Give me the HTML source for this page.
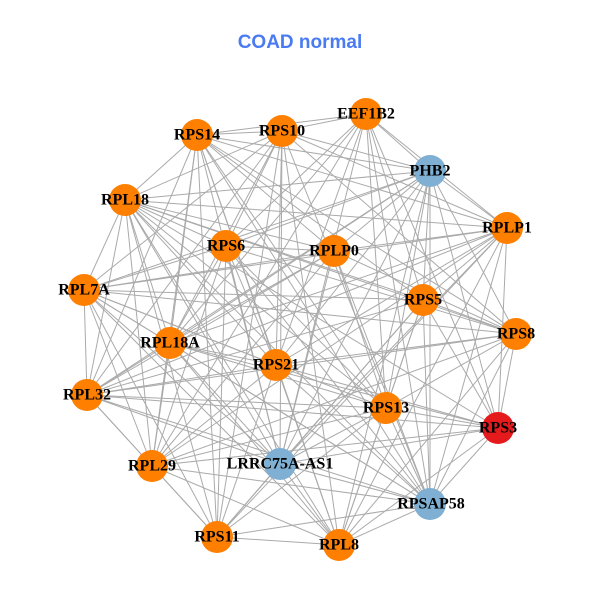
<!DOCTYPE html>
<html><head><meta charset="utf-8"><style>
html,body{margin:0;padding:0;background:#fff;}
svg{display:block}
.l{font-family:"Liberation Serif",serif;font-weight:bold;font-size:16px;fill:#000;text-anchor:middle;dominant-baseline:central}
</style></head><body>
<svg id="s" width="600" height="600" xmlns="http://www.w3.org/2000/svg">
<rect width="600" height="600" fill="#fff"/>
<text x="300" y="48" text-anchor="middle" font-family="Liberation Sans, sans-serif" font-weight="bold" font-size="19" fill="#4A7BF2">COAD normal</text>
<g id="e" stroke="#aaaaaa" stroke-width="1"></g>
<g id="n"></g>
<g id="t">
<text class="l" x="366" y="114">EEF1B2</text>
<text class="l" x="282" y="131">RPS10</text>
<text class="l" x="197" y="135">RPS14</text>
<text class="l" x="430" y="171">PHB2</text>
<text class="l" x="125" y="200">RPL18</text>
<text class="l" x="507" y="228">RPLP1</text>
<text class="l" x="226" y="246">RPS6</text>
<text class="l" x="334" y="251">RPLP0</text>
<text class="l" x="84" y="290">RPL7A</text>
<text class="l" x="423" y="300">RPS5</text>
<text class="l" x="516" y="334">RPS8</text>
<text class="l" x="170" y="343">RPL18A</text>
<text class="l" x="276" y="365">RPS21</text>
<text class="l" x="87" y="395">RPL32</text>
<text class="l" x="386" y="408">RPS13</text>
<text class="l" x="498" y="428">RPS3</text>
<text class="l" x="152" y="466">RPL29</text>
<text class="l" x="280" y="464">LRRC75A-AS1</text>
<text class="l" x="431" y="504">RPSAP58</text>
<text class="l" x="217" y="537">RPS11</text>
<text class="l" x="339" y="545">RPL8</text>
</g>
</svg>
<script>
var N=[[366,114,"o"],[282,131,"o"],[197,135,"o"],[430,171,"b"],[125,200,"o"],[507,228,"o"],[226,246,"o"],[334,251,"o"],[84,290,"o"],[423,300,"o"],[516,334,"o"],[170,343,"o"],[276,365,"o"],[87,395,"o"],[386,408,"o"],[498,428,"r"],[152,466,"o"],[280,464,"b"],[430,504,"b"],[217,537,"o"],[339,545,"o"]];
var C={o:"#FF7F00",b:"#7FAFD2",r:"#E41A1C"};
var ns="http://www.w3.org/2000/svg",e=document.getElementById("e"),g=document.getElementById("n");
var seed=7;function rnd(){seed=(seed*1103515245+12345)%2147483648;return seed/2147483648;}
for(var i=0;i<N.length;i++)for(var j=i+1;j<N.length;j++){if(rnd()<0.78){var l=document.createElementNS(ns,"line");l.setAttribute("x1",N[i][0]);l.setAttribute("y1",N[i][1]);l.setAttribute("x2",N[j][0]);l.setAttribute("y2",N[j][1]);e.appendChild(l);}}
N.forEach(function(p){var c=document.createElementNS(ns,"circle");c.setAttribute("cx",p[0]);c.setAttribute("cy",p[1]);c.setAttribute("r",16);c.setAttribute("fill",C[p[2]]);g.appendChild(c);});
</script>
</body></html>
